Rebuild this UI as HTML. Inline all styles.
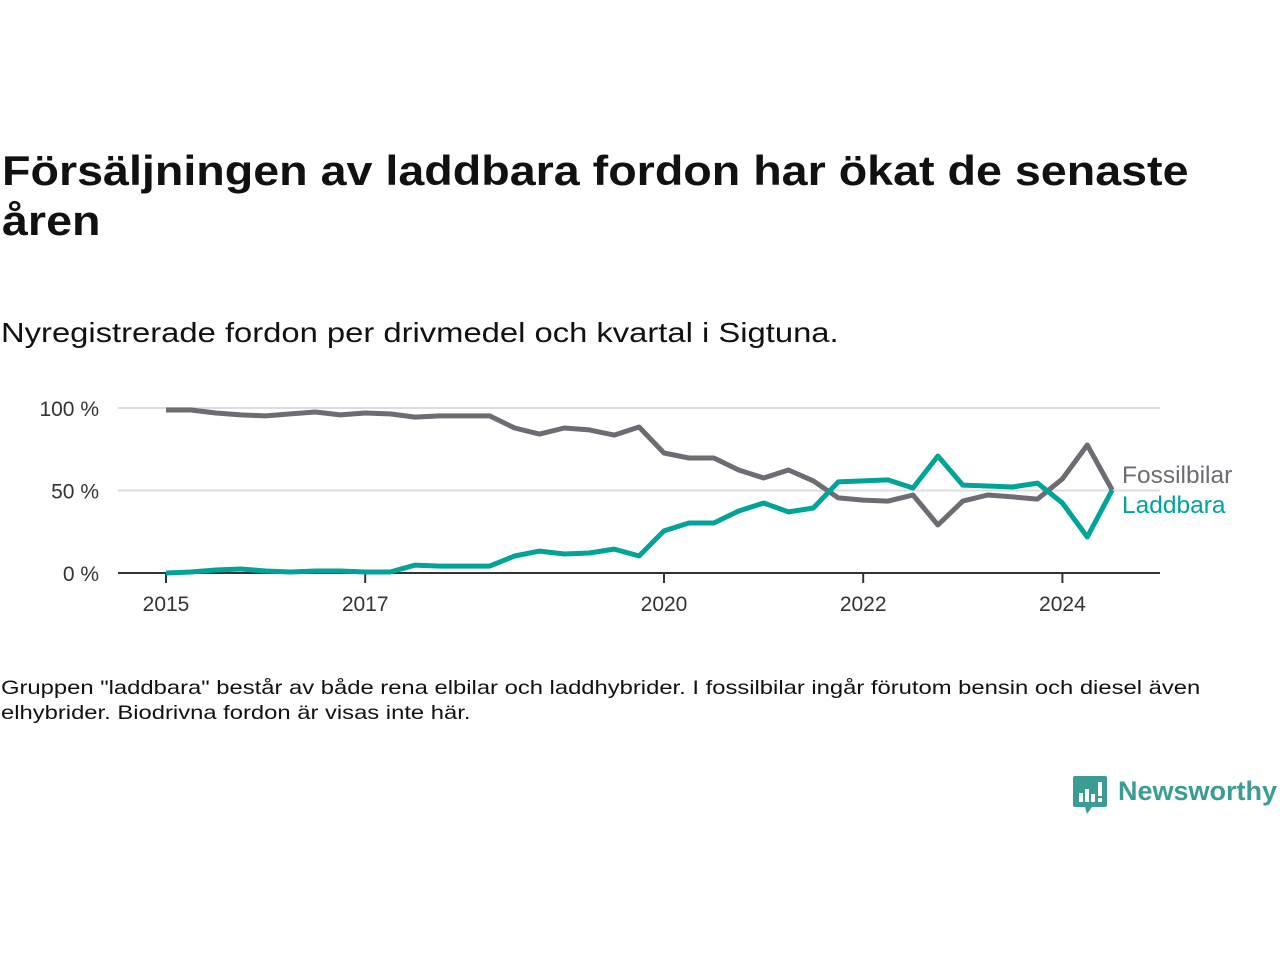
<!DOCTYPE html>
<html><head><meta charset="utf-8">
<style>
body{margin:0;width:1280px;height:960px;background:#fff;font-family:"Liberation Sans",sans-serif;color:#111;position:relative;overflow:hidden}
.t{position:absolute;left:2px;top:146px;font-size:42px;font-weight:bold;line-height:50px;color:#111;transform:scaleX(1.11);transform-origin:0 0;white-space:nowrap}
.s{position:absolute;left:1px;top:317px;font-size:28px;color:#111;transform:scaleX(1.17);transform-origin:0 0;white-space:nowrap}
.n{position:absolute;left:1px;top:676px;font-size:19.5px;line-height:25px;color:#111;transform:scaleX(1.22);transform-origin:0 0;white-space:nowrap}
svg{position:absolute;left:0;top:0}
</style></head><body>
<div class="t">Försäljningen av laddbara fordon har ökat de senaste<br>åren</div>
<div class="s">Nyregistrerade fordon per drivmedel och kvartal i Sigtuna.</div>
<div class="n">Gruppen "laddbara" består av både rena elbilar och laddhybrider. I fossilbilar ingår förutom bensin och diesel även<br>elhybrider. Biodrivna fordon är visas inte här.</div>
<svg width="1280" height="960" id="chart"></svg>
<div style="position:absolute;left:1073px;top:776px;">
<svg width="34" height="40" style="position:static"><path d="M2 0h30a2 2 0 0 1 2 2v27a2 2 0 0 1-2 2H19l-5 7-2-7H2a2 2 0 0 1-2-2V2a2 2 0 0 1 2-2z" fill="#3a9c92"/><rect x="6" y="17" width="4" height="9" fill="#fff"/><rect x="12" y="13" width="4" height="13" fill="#fff"/><rect x="18" y="18" width="4" height="8" fill="#fff"/><rect x="25" y="6" width="4" height="14" fill="#fff"/><rect x="25" y="22" width="4" height="4" fill="#fff"/></svg>
<span style="position:absolute;left:45px;top:0px;font-size:27px;font-weight:bold;color:#3a9c92;white-space:nowrap">Newsworthy</span>
</div>
<script>
const fossil=[98.8,98.8,97,95.8,95.2,96.4,97.6,95.8,97,96.4,94.5,95.2,95.2,95.2,87.9,84.2,87.9,86.7,83.6,88.5,72.7,69.7,69.7,62.4,57.6,62.4,55.8,45.5,44.2,43.6,47.3,29.1,43.6,47.3,46.1,44.8,57,77.6,50.3];
const laddbara=[0,0.6,1.8,2.4,1.2,0.6,1.2,1.2,0.6,0.6,4.8,4.2,4.2,4.2,10.3,13.3,11.5,12.1,14.5,10.3,25.5,30.3,30.3,37.6,42.4,37,39.4,55.2,55.8,56.4,51.5,70.9,53.3,52.7,52.1,54.5,42.4,21.8,50.3];
const yTicks=[0,50,100];
const xTicks=[2015,2017,2020,2022,2024];
const svg=document.getElementById('chart');
const NS='http://www.w3.org/2000/svg';
const X=t=>166+(t-2015)*99.6;
const Y=v=>573-v*1.65;
function mk(tag,attrs){const e=document.createElementNS(NS,tag);for(const k in attrs)e.setAttribute(k,attrs[k]);svg.appendChild(e);return e;}
yTicks.forEach(v=>{
 if(v>0){const g=mk('line',{x1:118,x2:1160,y1:Y(v),y2:Y(v),stroke:'#dcdcdc','stroke-width':2});
 
 }
 const t=mk('text',{x:99,y:Y(v)+8,'text-anchor':'end','font-size':21,fill:'#333','font-family':'Liberation Sans, sans-serif'});
 t.textContent=v+' %';
 
 
});
const ax=mk('line',{x1:118,x2:1160,y1:573,y2:573,stroke:'#333','stroke-width':2});


xTicks.forEach(yr=>{
 const l=mk('line',{x1:X(yr),x2:X(yr),y1:573,y2:583,stroke:'#333','stroke-width':2});
 
 
 const t=mk('text',{x:X(yr),y:611,'text-anchor':'middle','font-size':21,fill:'#333','font-family':'Liberation Sans, sans-serif'});
 t.textContent=yr;
 
 
});
function line(data,color,name){
 const d=data.map((v,i)=>(i?'L':'M')+X(2015+i/4).toFixed(1)+' '+Y(v).toFixed(1)).join(' ');
 const p=mk('path',{d:d,fill:'none',stroke:color,'stroke-width':5,'stroke-linejoin':'round'});
 
 
}
line(fossil,'#6d6c73','fossilbilar-line');
line(laddbara,'#00a398','laddbara-line');
const l1=mk('text',{x:1122,y:483,'font-size':24.5,fill:'#6d6c73','font-family':'Liberation Sans, sans-serif'});
l1.textContent='Fossilbilar';


const l2=mk('text',{x:1122,y:513,'font-size':24.5,fill:'#00a398','font-family':'Liberation Sans, sans-serif'});
l2.textContent='Laddbara';


</script>
</body></html>
